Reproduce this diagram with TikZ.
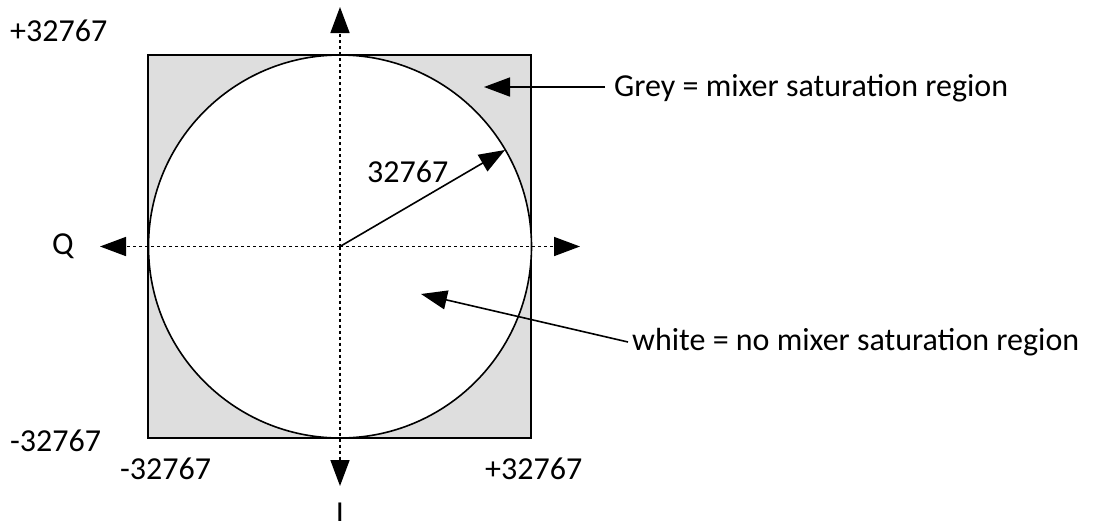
\documentclass[tikz,border=0pt]{standalone}
\usepackage{fontspec}
\setmainfont{Carlito}
\usetikzlibrary{arrows.meta}

\begin{document}
\begin{tikzpicture}[
    x=1pt, y=-1pt,
    font=\fontsize{32}{38}\selectfont,
    axis/.style={line width=1.6pt, dash pattern=on 3pt off 3pt, -{Triangle[length=26pt, width=19pt]}},
    pointer/.style={line width=1.6pt, -{Triangle[length=26pt, width=19pt]}},
    lbl/.style={inner sep=0pt, anchor=west}
]
\useasboundingbox (0,0) rectangle (1095,520);
% saturation square and circle
\filldraw[fill=black!13, line width=1.6pt] (148,55) rectangle (531,438);
\coordinate (c) at (340,246.5);
\filldraw[fill=white, line width=1.6pt] (c) circle[radius=191.5];
% axes
\coordinate (top) at (340,7);
\coordinate (bot) at (340,486);
\coordinate (lft) at (100,246.5);
\coordinate (rgt) at (580,246.5);
\draw[axis] (c) -- (top);
\draw[axis] (c) -- (bot);
\draw[axis] (c) -- (lft);
\draw[axis] (c) -- (rgt);
% radius
\coordinate (rim) at (505,150);
\draw[pointer] (c) -- (rim);
% labels
\node[lbl] (ymax) at (10,31) {+32767};
\node[lbl] (ymin) at (10,441) {-32767};
\node[lbl] (xmin) at (120,469) {-32767};
\node[lbl] (xmax) at (485,469) {+32767};
\node[lbl] (rad) at (367,172) {32767};
\node[lbl] (q) at (52,246) {Q};
\node[anchor=north, inner sep=0pt] (i) at (340,503) {I};
\node[lbl] (grey) at (614,88) {Grey = mixer saturation region};
\node[lbl] (white) at (632,342) {white = no mixer saturation region};
% pointers to regions
\coordinate (greytip) at (484,87);
\coordinate (whitetip) at (421,294);
\draw[pointer] (grey.west) ++(-9,-1) -- (greytip);
\draw[pointer] (white.west) ++(-4,0) -- (whitetip);
\end{tikzpicture}
\end{document}
